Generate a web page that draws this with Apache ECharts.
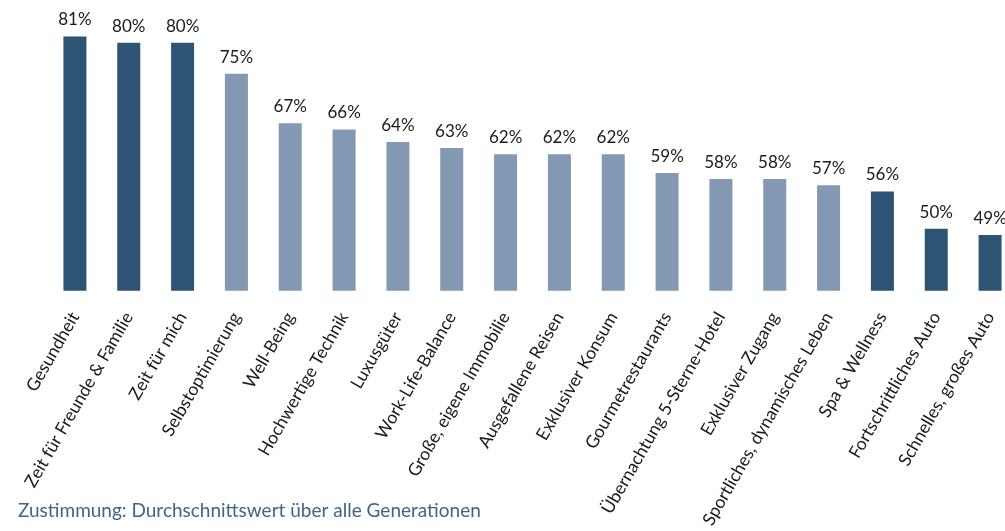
<!DOCTYPE html>
<html>
<head>
<meta charset="utf-8">
<script src="https://cdn.jsdelivr.net/npm/echarts@6/dist/echarts.min.js"></script>
<style>
html,body{margin:0;padding:0;background:#fff;overflow:hidden;width:1005px;height:531px;}
#chart{width:1017px;height:531px;}
</style>
</head>
<body>
<div id="chart"></div>
<script>
const categories = ["Gesundheit","Zeit für Freunde & Familie","Zeit für mich","Selbstoptimierung","Well-Being","Hochwertige Technik","Luxusgüter","Work-Life-Balance","Große, eigene Immobilie","Ausgefallene Reisen","Exklusiver Konsum","Gourmetrestaurants","Übernachtung 5-Sterne-Hotel","Exklusiver Zugang","Sportliches, dynamisches Leben","Spa & Wellness","Fortschrittliches Auto","Schnelles, großes Auto"];
const values = [81,80,80,75,67,66,64,63,62,62,62,59,58,58,57,56,50,49];
const highlighted = [true,true,true,false,false,false,false,false,false,false,false,false,false,false,false,true,true,true];
const subtitle = "Zustimmung: Durchschnittswert über alle Generationen";

const DARK = "#2d5375";
const LIGHT = "#8399b3";

const chart = echarts.init(document.getElementById('chart'));
chart.setOption({
  animation: false,
  title: {
    text: subtitle,
    left: 13,
    top: 496,
    textStyle: {fontFamily: "Lato", fontSize: 19, fontWeight: "normal", color: "#3f6589"}
  },
  grid: {left: 48, right: 0, top: 11.7, bottom: 240.3, containLabel: false},
  xAxis: {
    type: "category",
    data: categories,
    axisLine: {show: false},
    axisTick: {show: false},
    axisLabel: {
      interval: 0,
      rotate: 60,
      margin: 23,
      fontFamily: "Lato",
      fontSize: 17.5,
      color: "#1a1a1a"
    }
  },
  yAxis: {
    type: "value",
    min: 40,
    max: 85,
    show: false,
    splitLine: {show: false}
  },
  series: [{
    type: "bar",
    barWidth: 23,
    data: values.map((v, i) => ({value: v, itemStyle: {color: highlighted[i] ? DARK : LIGHT}})),
    label: {
      show: true,
      position: "top",
      distance: 8,
      formatter: p => p.value + "%",
      fontFamily: "Lato",
      fontSize: 17,
      color: "#1a1a1a"
    }
  }]
});
</script>
</body>
</html>
